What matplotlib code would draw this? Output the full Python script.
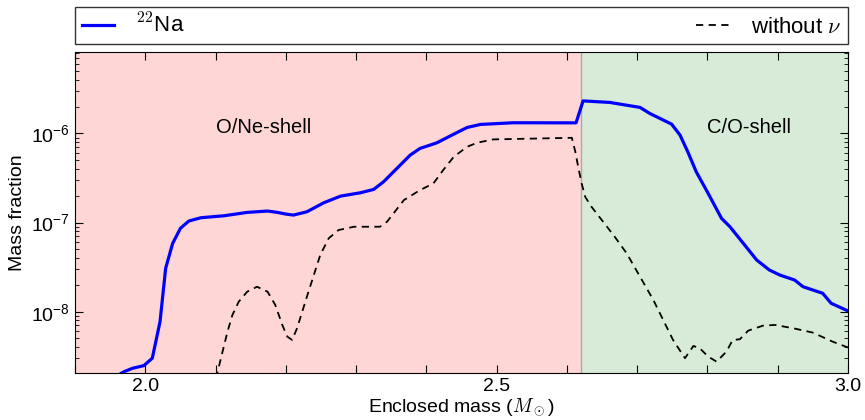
import numpy as np
import matplotlib
matplotlib.use('Agg')
import matplotlib.pyplot as plt
from matplotlib.ticker import MultipleLocator, FixedLocator, FuncFormatter

plt.rcParams['font.family'] = ['Liberation Sans', 'DejaVu Sans']
plt.rcParams['mathtext.fontset'] = 'cm'

### DATA (log10 of mass fraction)
m_na = [1.966, 1.970, 1.982, 1.998, 2.010, 2.015, 2.021, 2.024, 2.029, 2.039,
        2.050, 2.062, 2.079, 2.112, 2.145, 2.174, 2.188, 2.200, 2.211, 2.230,
        2.254, 2.278, 2.306, 2.325, 2.339, 2.358, 2.377, 2.391, 2.415, 2.439,
        2.458, 2.477, 2.524, 2.590, 2.613, 2.623, 2.661, 2.704, 2.718, 2.749,
        2.761, 2.772, 2.784, 2.801, 2.820, 2.832, 2.870, 2.888, 2.903, 2.924,
        2.936, 2.950, 2.964, 2.976, 3.000]
log_na = [-8.69, -8.673, -8.635, -8.605, -8.522, -8.336, -8.112, -7.888, -7.513, -7.233,
          -7.065, -6.983, -6.946, -6.924, -6.886, -6.871, -6.886, -6.905, -6.916, -6.879,
          -6.778, -6.703, -6.666, -6.628, -6.543, -6.393, -6.243, -6.168, -6.105, -6.008,
          -5.933, -5.899, -5.880, -5.881, -5.881, -5.635, -5.652, -5.708, -5.776, -5.896,
          -6.019, -6.206, -6.430, -6.673, -6.953, -7.047, -7.420, -7.532, -7.589, -7.645,
          -7.720, -7.757, -7.794, -7.906, -7.992]

m_nonu = [2.100, 2.103, 2.110, 2.117, 2.124, 2.133, 2.145, 2.159, 2.174, 2.185,
          2.195, 2.202, 2.209, 2.216, 2.230, 2.249, 2.261, 2.275, 2.297, 2.334,
          2.344, 2.368, 2.391, 2.410, 2.424, 2.439, 2.458, 2.472, 2.495, 2.607,
          2.612, 2.616, 2.621, 2.626, 2.635, 2.668, 2.685, 2.723, 2.751, 2.768,
          2.780, 2.789, 2.801, 2.813, 2.827, 2.836, 2.846, 2.858, 2.879, 2.896,
          2.922, 2.950, 2.978, 3.000]
log_nonu = [-8.75, -8.673, -8.448, -8.224, -8.037, -7.888, -7.776, -7.720, -7.776, -7.925,
            -8.149, -8.280, -8.317, -8.186, -7.832, -7.364, -7.177, -7.084, -7.047, -7.047,
            -6.991, -6.748, -6.636, -6.561, -6.411, -6.262, -6.150, -6.105, -6.067, -6.049,
            -6.206, -6.374, -6.561, -6.711, -6.823, -7.159, -7.345, -7.869, -8.317, -8.522,
            -8.385, -8.410, -8.504, -8.561, -8.448, -8.317, -8.310, -8.213, -8.157, -8.149,
            -8.186, -8.235, -8.336, -8.402]

shell_edge = 2.62
xlim = (1.90, 3.0)
ylim = (2.05e-9, 8.2e-6)

fig = plt.figure(figsize=(8.65, 4.2), dpi=100)
ax = fig.add_axes([75 / 865, 1 - 373 / 420, 773 / 865, 321 / 420])

ax.axvspan(xlim[0], shell_edge, color='#ffd6d6', lw=0, zorder=0)
ax.axvspan(shell_edge, xlim[1], color='#d8ebd8', lw=0, zorder=0)
ax.axvline(shell_edge, color='#aaaaaa', lw=1, zorder=1)

ax.plot(m_na, 10 ** np.array(log_na), color='#0000ff', lw=2.3, label=r'$^{22}$Na', zorder=3)
ax.plot(m_nonu, 10 ** np.array(log_nonu), color='black', lw=1.3, ls=(0, (4, 3)),
        label=r'without $\nu$', zorder=2)

ax.set_yscale('log')
ax.set_xlim(*xlim)
ax.set_ylim(*ylim)

ax.xaxis.set_major_locator(MultipleLocator(0.1))
ax.xaxis.set_major_formatter(FuncFormatter(
    lambda v, p: f'{v:.1f}' if abs(v * 2 - round(v * 2)) < 1e-6 else ''))
ax.yaxis.set_major_locator(FixedLocator([1e-8, 1e-7, 1e-6]))
ax.yaxis.set_major_formatter(FuncFormatter(
    lambda v, p: r'$\mathregular{10^{%d}}$' % round(np.log10(v))))
ax.tick_params(which='both', direction='in', top=True, right=True, labelsize=14)
ax.tick_params(which='major', length=6)
ax.tick_params(which='minor', length=3)

ax.set_xlabel(r'Enclosed mass ($M_\odot$)', fontsize=14, labelpad=1)
ax.set_ylabel('Mass fraction', fontsize=14)

ax.text(2.168, 10 ** -5.93, 'O/Ne-shell', fontsize=14.5, ha='center', va='center')
ax.text(2.859, 10 ** -5.93, 'C/O-shell', fontsize=14.5, ha='center', va='center')

leg = ax.legend(loc='lower left', bbox_to_anchor=(0, 1.024, 1, 0.1), mode='expand',
                ncol=2, fontsize=16, fancybox=False, edgecolor='black',
                borderaxespad=0, handlelength=1.45, handletextpad=1.0, borderpad=0.3)
leg.get_frame().set_linewidth(1.0)

fig.savefig('out.png', dpi=100)
